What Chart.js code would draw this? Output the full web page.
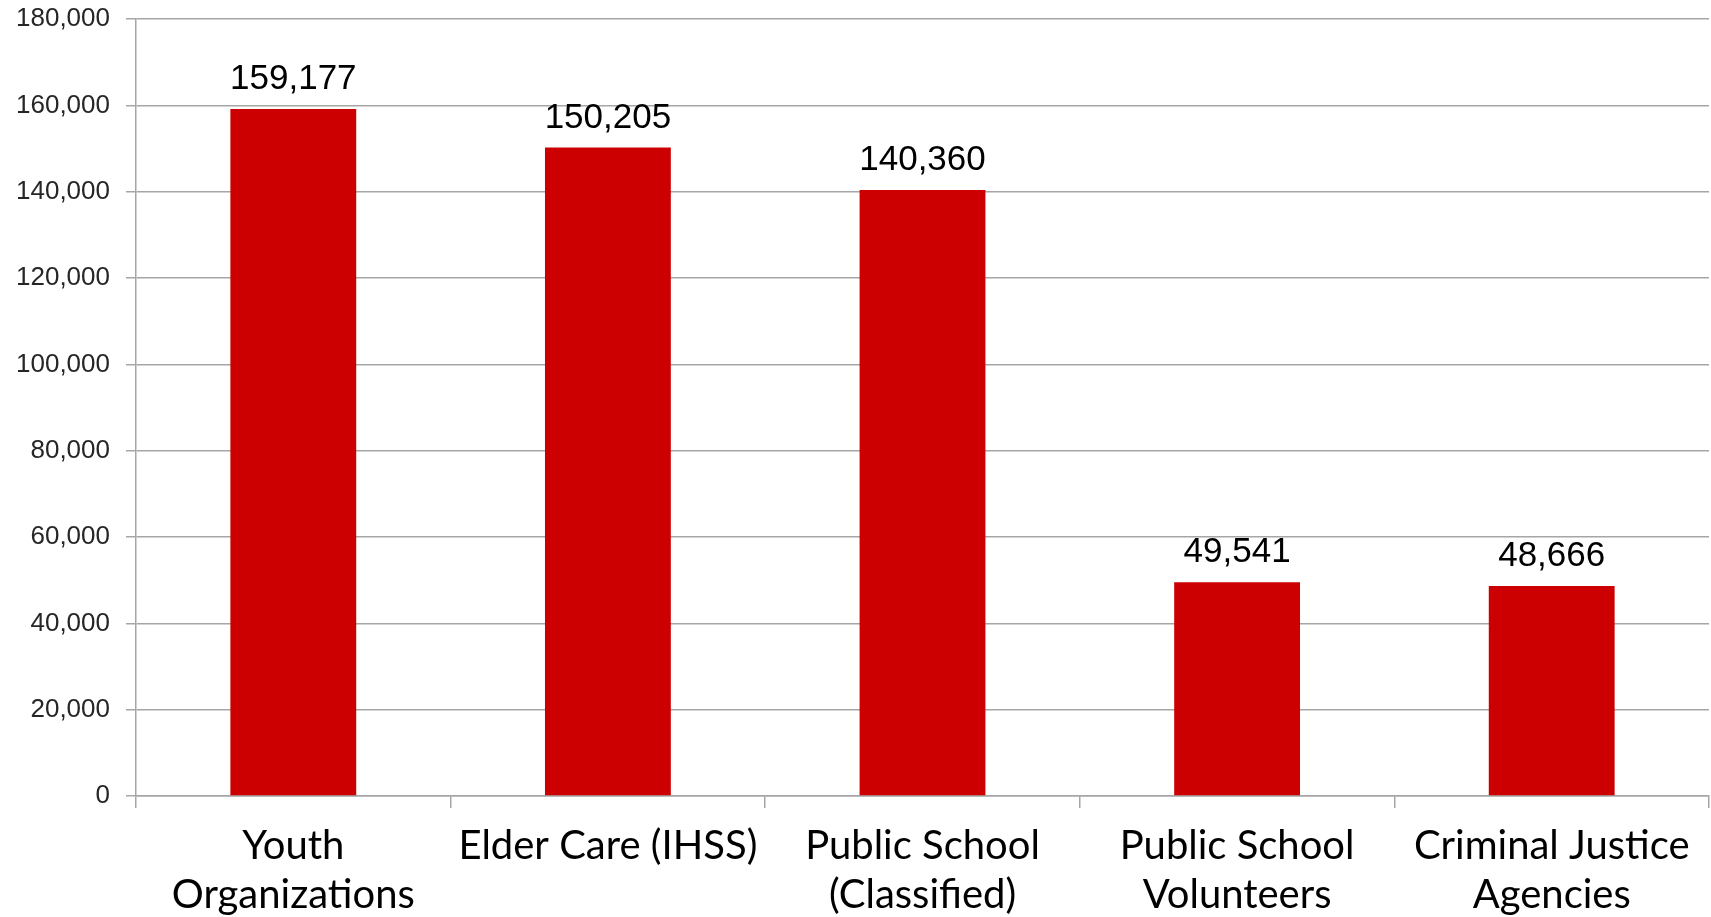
<!DOCTYPE html>
<html>
<head>
<meta charset="utf-8">
<script src="https://cdn.jsdelivr.net/npm/chart.js@4.4.1/dist/chart.umd.min.js"></script>
<style>
  html, body { margin: 0; padding: 0; background: #fff; }
  #wrap { width: 1711px; height: 917px; }
</style>
</head>
<body>
<div id="wrap"><canvas id="myChart" width="1711" height="917"></canvas></div>
<script>
const gCategories = [
  ['Youth', 'Organizations'],
  ['Elder Care (IHSS)'],
  ['Public School', '(Classified)'],
  ['Public School', 'Volunteers'],
  ['Criminal Justice', 'Agencies']
]
const gValues = [159177, 150205, 140360, 49541, 48666]
const gYMax = 180000
const gYStep = 20000

// draws the number above each bar
const valueLabels = {
  id: 'valueLabels',
  afterDatasetsDraw(chart) {
    const ctx = chart.ctx
    const meta = chart.getDatasetMeta(0)
    ctx.save()
    ctx.font = '35px "Liberation Sans", Arial, sans-serif'
    ctx.fillStyle = '#000'
    ctx.textAlign = 'center'
    ctx.textBaseline = 'alphabetic'
    meta.data.forEach((bar, i) => {
      ctx.fillText(gValues[i].toLocaleString('en-US'), bar.x, bar.y - 20)
    })
    ctx.restore()
  }
}

const ctx = document.getElementById('myChart').getContext('2d');
new Chart(ctx, {
  type: 'bar',
  data: {
    labels: gCategories,
    datasets: [{
      data: gValues,
      backgroundColor: '#cc0000',
      barPercentage: 0.4,
      categoryPercentage: 1.0
    }]
  },
  options: {
    responsive: false,
    animation: false,
    layout: { padding: { top: 19, right: 2, left: 0, bottom: 0 } },
    plugins: {
      legend: { display: false },
      tooltip: { enabled: false }
    },
    scales: {
      x: {
        border: { color: '#a6a6a6', width: 1.5 },
        grid: {
          offset: true,
          drawOnChartArea: false,
          color: '#a6a6a6',
          lineWidth: 1.5,
          tickLength: 12
        },
        ticks: {
          color: '#000',
          font: { family: 'Lato, sans-serif', size: 40, lineHeight: 1.225 },
          padding: 14,
          maxRotation: 0,
          autoSkip: false
        },
        afterFit(scale) { scale.height = 121 }
      },
      y: {
        min: 0,
        max: gYMax,
        border: { color: '#a6a6a6', width: 1.5 },
        grid: { color: '#a6a6a6', lineWidth: 1.5, tickLength: 10 },
        ticks: {
          stepSize: gYStep,
          color: '#262626',
          padding: 16,
          font: { family: '"Liberation Sans", Arial, sans-serif', size: 26 },
          callback: v => v.toLocaleString('en-US')
        },
        afterFit(scale) {
          scale.width = 136
          scale.paddingTop = 0
          scale.paddingBottom = 0
        }
      }
    }
  },
  plugins: [valueLabels]
});
</script>
</body>
</html>
